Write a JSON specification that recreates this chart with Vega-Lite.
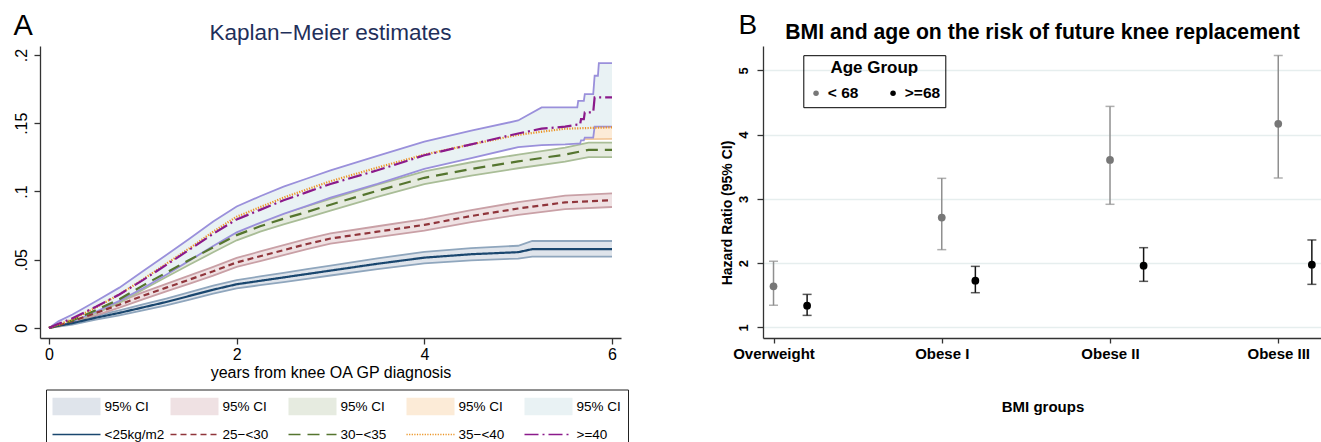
{
  "$schema": "https://vega.github.io/schema/vega-lite/v6.json",
  "background": "white",
  "padding": {"left": 12, "top": 11, "right": 0, "bottom": 0},
  "autosize": {"type": "pad"},
  "bounds": "flush",
  "spacing": 142,
  "resolve": {"scale": {"color": "independent", "fill": "independent", "stroke": "independent", "strokeDash": "independent"}},
  "config": {
    "font": "Liberation Sans",
    "view": {"stroke": null},
    "axis": {"domainColor": "#333333", "tickColor": "#333333", "labelColor": "#000000", "titleColor": "#000000", "domainWidth": 1.3, "tickWidth": 1.3, "labelFlush": false, "labelOverlap": false, "labelBound": false},
    "legend": {"labelColor": "#000000", "titleColor": "#000000"}
  },
  "datasets": {
    "km": [
      {"b":"CI1","g":"<25kg/m2","t":0,"est":0,"lo":0,"hi":0},
      {"b":"CI1","g":"<25kg/m2","t":0.1,"est":0.0015,"lo":0.0009,"hi":0.0021},
      {"b":"CI1","g":"<25kg/m2","t":0.25,"est":0.0035,"lo":0.0025,"hi":0.0045},
      {"b":"CI1","g":"<25kg/m2","t":0.5,"est":0.0075,"lo":0.006,"hi":0.009},
      {"b":"CI1","g":"<25kg/m2","t":0.75,"est":0.011,"lo":0.0092,"hi":0.0129},
      {"b":"CI1","g":"<25kg/m2","t":1,"est":0.015,"lo":0.0128,"hi":0.0172},
      {"b":"CI1","g":"<25kg/m2","t":1.25,"est":0.019,"lo":0.0165,"hi":0.0215},
      {"b":"CI1","g":"<25kg/m2","t":1.5,"est":0.0235,"lo":0.0208,"hi":0.0262},
      {"b":"CI1","g":"<25kg/m2","t":1.75,"est":0.028,"lo":0.0251,"hi":0.0309},
      {"b":"CI1","g":"<25kg/m2","t":2,"est":0.032,"lo":0.029,"hi":0.035},
      {"b":"CI1","g":"<25kg/m2","t":2.25,"est":0.0345,"lo":0.0313,"hi":0.0377},
      {"b":"CI1","g":"<25kg/m2","t":2.5,"est":0.037,"lo":0.0336,"hi":0.0404},
      {"b":"CI1","g":"<25kg/m2","t":2.75,"est":0.0395,"lo":0.036,"hi":0.043},
      {"b":"CI1","g":"<25kg/m2","t":3,"est":0.042,"lo":0.0384,"hi":0.0456},
      {"b":"CI1","g":"<25kg/m2","t":3.5,"est":0.047,"lo":0.043,"hi":0.051},
      {"b":"CI1","g":"<25kg/m2","t":4,"est":0.0515,"lo":0.0473,"hi":0.0557},
      {"b":"CI1","g":"<25kg/m2","t":4.5,"est":0.054,"lo":0.0495,"hi":0.0585},
      {"b":"CI1","g":"<25kg/m2","t":5,"est":0.0555,"lo":0.0508,"hi":0.0602},
      {"b":"CI1","g":"<25kg/m2","t":5.15,"est":0.0577,"lo":0.0522,"hi":0.0637},
      {"b":"CI1","g":"<25kg/m2","t":6,"est":0.0577,"lo":0.0522,"hi":0.0637},

      {"b":"CI2","g":"25−<30","t":0,"est":0,"lo":0,"hi":0},
      {"b":"CI2","g":"25−<30","t":0.1,"est":0.002,"lo":0.0013,"hi":0.0027},
      {"b":"CI2","g":"25−<30","t":0.25,"est":0.005,"lo":0.0038,"hi":0.0062},
      {"b":"CI2","g":"25−<30","t":0.5,"est":0.011,"lo":0.0092,"hi":0.0128},
      {"b":"CI2","g":"25−<30","t":0.75,"est":0.017,"lo":0.0148,"hi":0.0192},
      {"b":"CI2","g":"25−<30","t":1,"est":0.0235,"lo":0.0209,"hi":0.0261},
      {"b":"CI2","g":"25−<30","t":1.25,"est":0.0295,"lo":0.0267,"hi":0.0323},
      {"b":"CI2","g":"25−<30","t":1.5,"est":0.0355,"lo":0.0325,"hi":0.0385},
      {"b":"CI2","g":"25−<30","t":1.75,"est":0.0415,"lo":0.0383,"hi":0.0447},
      {"b":"CI2","g":"25−<30","t":2,"est":0.048,"lo":0.0447,"hi":0.0513},
      {"b":"CI2","g":"25−<30","t":2.25,"est":0.0525,"lo":0.049,"hi":0.056},
      {"b":"CI2","g":"25−<30","t":2.5,"est":0.057,"lo":0.0534,"hi":0.0606},
      {"b":"CI2","g":"25−<30","t":2.75,"est":0.0615,"lo":0.0578,"hi":0.0652},
      {"b":"CI2","g":"25−<30","t":3,"est":0.0655,"lo":0.0617,"hi":0.0693},
      {"b":"CI2","g":"25−<30","t":3.5,"est":0.0705,"lo":0.0665,"hi":0.0745},
      {"b":"CI2","g":"25−<30","t":4,"est":0.0755,"lo":0.0713,"hi":0.0797},
      {"b":"CI2","g":"25−<30","t":4.5,"est":0.082,"lo":0.0776,"hi":0.0864},
      {"b":"CI2","g":"25−<30","t":5,"est":0.0875,"lo":0.0828,"hi":0.0922},
      {"b":"CI2","g":"25−<30","t":5.5,"est":0.092,"lo":0.0871,"hi":0.0969},
      {"b":"CI2","g":"25−<30","t":6,"est":0.0936,"lo":0.0886,"hi":0.0986},

      {"b":"CI3","g":"30−<35","t":0,"est":0,"lo":0,"hi":0},
      {"b":"CI3","g":"30−<35","t":0.1,"est":0.0022,"lo":0.0012,"hi":0.0032},
      {"b":"CI3","g":"30−<35","t":0.25,"est":0.0055,"lo":0.004,"hi":0.007},
      {"b":"CI3","g":"30−<35","t":0.5,"est":0.013,"lo":0.0108,"hi":0.0152},
      {"b":"CI3","g":"30−<35","t":0.75,"est":0.021,"lo":0.0183,"hi":0.0237},
      {"b":"CI3","g":"30−<35","t":1,"est":0.031,"lo":0.028,"hi":0.034},
      {"b":"CI3","g":"30−<35","t":1.25,"est":0.0405,"lo":0.0373,"hi":0.0437},
      {"b":"CI3","g":"30−<35","t":1.5,"est":0.05,"lo":0.0465,"hi":0.0535},
      {"b":"CI3","g":"30−<35","t":1.75,"est":0.059,"lo":0.0554,"hi":0.0626},
      {"b":"CI3","g":"30−<35","t":2,"est":0.068,"lo":0.0642,"hi":0.0718},
      {"b":"CI3","g":"30−<35","t":2.25,"est":0.0745,"lo":0.0705,"hi":0.0785},
      {"b":"CI3","g":"30−<35","t":2.5,"est":0.08,"lo":0.0759,"hi":0.0841},
      {"b":"CI3","g":"30−<35","t":2.75,"est":0.085,"lo":0.0808,"hi":0.0892},
      {"b":"CI3","g":"30−<35","t":3,"est":0.0903,"lo":0.086,"hi":0.0946},
      {"b":"CI3","g":"30−<35","t":3.5,"est":0.1005,"lo":0.096,"hi":0.105},
      {"b":"CI3","g":"30−<35","t":4,"est":0.11,"lo":0.1053,"hi":0.1147},
      {"b":"CI3","g":"30−<35","t":4.5,"est":0.1165,"lo":0.1116,"hi":0.1214},
      {"b":"CI3","g":"30−<35","t":5,"est":0.122,"lo":0.117,"hi":0.127},
      {"b":"CI3","g":"30−<35","t":5.5,"est":0.127,"lo":0.1218,"hi":0.1322},
      {"b":"CI3","g":"30−<35","t":5.75,"est":0.1305,"lo":0.1252,"hi":0.1358},
      {"b":"CI3","g":"30−<35","t":6,"est":0.1305,"lo":0.1252,"hi":0.1358},

      {"b":"CI4","g":"35−<40","t":0,"est":0,"lo":0,"hi":0},
      {"b":"CI4","g":"35−<40","t":0.1,"est":0.0025,"lo":0.001,"hi":0.004},
      {"b":"CI4","g":"35−<40","t":0.25,"est":0.0062,"lo":0.0042,"hi":0.0082},
      {"b":"CI4","g":"35−<40","t":0.5,"est":0.015,"lo":0.0118,"hi":0.0182},
      {"b":"CI4","g":"35−<40","t":0.75,"est":0.0245,"lo":0.0205,"hi":0.0285},
      {"b":"CI4","g":"35−<40","t":1,"est":0.0355,"lo":0.0308,"hi":0.0402},
      {"b":"CI4","g":"35−<40","t":1.25,"est":0.047,"lo":0.0419,"hi":0.0521},
      {"b":"CI4","g":"35−<40","t":1.5,"est":0.0585,"lo":0.053,"hi":0.064},
      {"b":"CI4","g":"35−<40","t":1.75,"est":0.0705,"lo":0.0647,"hi":0.0763},
      {"b":"CI4","g":"35−<40","t":2,"est":0.0815,"lo":0.0755,"hi":0.0875},
      {"b":"CI4","g":"35−<40","t":2.25,"est":0.0885,"lo":0.0823,"hi":0.0947},
      {"b":"CI4","g":"35−<40","t":2.5,"est":0.0955,"lo":0.0892,"hi":0.1018},
      {"b":"CI4","g":"35−<40","t":2.75,"est":0.1015,"lo":0.0951,"hi":0.1079},
      {"b":"CI4","g":"35−<40","t":3,"est":0.1075,"lo":0.1009,"hi":0.1141},
      {"b":"CI4","g":"35−<40","t":3.5,"est":0.1175,"lo":0.1107,"hi":0.1243},
      {"b":"CI4","g":"35−<40","t":4,"est":0.127,"lo":0.12,"hi":0.134},
      {"b":"CI4","g":"35−<40","t":4.5,"est":0.1345,"lo":0.1273,"hi":0.1417},
      {"b":"CI4","g":"35−<40","t":5,"est":0.1415,"lo":0.134,"hi":0.149},
      {"b":"CI4","g":"35−<40","t":5.5,"est":0.146,"lo":0.1382,"hi":0.1538},
      {"b":"CI4","g":"35−<40","t":6,"est":0.147,"lo":0.1385,"hi":0.1555},

      {"b":"CI5","g":">=40","t":0,"est":0,"lo":0,"hi":0},
      {"b":"CI5","g":">=40","t":0.1,"est":0.003,"lo":0.0015,"hi":0.0048},
      {"b":"CI5","g":">=40","t":0.25,"est":0.007,"lo":0.0045,"hi":0.0098},
      {"b":"CI5","g":">=40","t":0.5,"est":0.0155,"lo":0.0118,"hi":0.0195},
      {"b":"CI5","g":">=40","t":0.75,"est":0.0245,"lo":0.0198,"hi":0.0295},
      {"b":"CI5","g":">=40","t":1,"est":0.035,"lo":0.029,"hi":0.0415},
      {"b":"CI5","g":">=40","t":1.25,"est":0.0462,"lo":0.039,"hi":0.0535},
      {"b":"CI5","g":">=40","t":1.5,"est":0.0575,"lo":0.0495,"hi":0.0655},
      {"b":"CI5","g":">=40","t":1.75,"est":0.069,"lo":0.06,"hi":0.078},
      {"b":"CI5","g":">=40","t":2,"est":0.0795,"lo":0.07,"hi":0.089},
      {"b":"CI5","g":">=40","t":2.25,"est":0.0865,"lo":0.077,"hi":0.0965},
      {"b":"CI5","g":">=40","t":2.5,"est":0.0935,"lo":0.0835,"hi":0.1035},
      {"b":"CI5","g":">=40","t":2.75,"est":0.0995,"lo":0.0895,"hi":0.1095},
      {"b":"CI5","g":">=40","t":3,"est":0.1055,"lo":0.0955,"hi":0.1155},
      {"b":"CI5","g":">=40","t":3.5,"est":0.1155,"lo":0.1055,"hi":0.126},
      {"b":"CI5","g":">=40","t":4,"est":0.1265,"lo":0.1165,"hi":0.1365},
      {"b":"CI5","g":">=40","t":4.5,"est":0.1345,"lo":0.1245,"hi":0.1445},
      {"b":"CI5","g":">=40","t":5,"est":0.1425,"lo":0.1325,"hi":0.152},
      {"b":"CI5","g":">=40","t":5.25,"est":0.146,"lo":0.134,"hi":0.1616},
      {"b":"CI5","g":">=40","t":5.5,"est":0.1475,"lo":0.1345,"hi":0.1616},
      {"b":"CI5","g":">=40","t":5.63,"est":0.149,"lo":0.135,"hi":0.1616},
      {"b":"CI5","g":">=40","t":5.64,"est":0.149,"lo":0.135,"hi":0.1664},
      {"b":"CI5","g":">=40","t":5.66,"est":0.149,"lo":0.135,"hi":0.1664},
      {"b":"CI5","g":">=40","t":5.67,"est":0.153,"lo":0.1375,"hi":0.1664},
      {"b":"CI5","g":">=40","t":5.7,"est":0.153,"lo":0.1375,"hi":0.1664},
      {"b":"CI5","g":">=40","t":5.71,"est":0.158,"lo":0.1395,"hi":0.1713},
      {"b":"CI5","g":">=40","t":5.8,"est":0.158,"lo":0.1395,"hi":0.1713},
      {"b":"CI5","g":">=40","t":5.815,"est":0.169,"lo":0.1475,"hi":0.1848},
      {"b":"CI5","g":">=40","t":5.85,"est":0.169,"lo":0.1475,"hi":0.1848},
      {"b":"CI5","g":">=40","t":5.86,"est":0.169,"lo":0.1475,"hi":0.194},
      {"b":"CI5","g":">=40","t":6,"est":0.169,"lo":0.1475,"hi":0.194}
    ],
    "hr": [
      {"bmi":"Overweight","k":1,"age":"< 68","hr":1.639,"lo":1.343,"hi":2.028},
      {"bmi":"Overweight","k":1,"age":">=68","hr":1.338,"lo":1.187,"hi":1.514},
      {"bmi":"Obese I","k":2,"age":"< 68","hr":2.709,"lo":2.21,"hi":3.32},
      {"bmi":"Obese I","k":2,"age":">=68","hr":1.727,"lo":1.54,"hi":1.95},
      {"bmi":"Obese II","k":3,"age":"< 68","hr":3.607,"lo":2.916,"hi":4.44},
      {"bmi":"Obese II","k":3,"age":">=68","hr":1.961,"lo":1.717,"hi":2.241},
      {"bmi":"Obese III","k":4,"age":"< 68","hr":4.168,"lo":3.327,"hi":5.232},
      {"bmi":"Obese III","k":4,"age":">=68","hr":1.977,"lo":1.67,"hi":2.361}
    ]
  },
  "hconcat": [
    {
      "width": 581,
      "height": 292,
      "title": {"text": "Kaplan−Meier estimates", "fontSize": 22.5, "fontWeight": "normal", "color": "#1f2f5a", "anchor": "middle", "frame": "group", "baseline": "alphabetic", "offset": 8, "dy": 58.5},
      "data": {"name": "km"},
      "encoding": {
        "x": {"field": "t", "type": "quantitative", "title": "years from knee OA GP diagnosis",
          "scale": {"domain": [-0.096, 6.096], "nice": false, "zero": false},
          "axis": {"values": [0, 2, 4, 6], "format": "d", "labelFontSize": 16, "labelPadding": 2, "tickSize": 6, "grid": false, "titleFontSize": 16, "titleFontWeight": "normal", "titlePadding": 2}}
      },
      "layer": [
        {
          "transform": [{"filter": "datum.b != 'CI5'"}],
          "mark": {"type": "area", "opacity": 1},
          "encoding": {
            "y": {"field": "lo", "type": "quantitative", "title": "A",
              "scale": {"domain": [-0.0074, 0.2066], "nice": false, "zero": false},
              "axis": {"values": [0, 0.05, 0.1, 0.15, 0.2], "labelExpr": "datum.value == 0 ? '0' : replace(format(datum.value, '.2~f'), '0.', '.')", "labelAngle": -90, "labelAlign": "center", "labelBaseline": "alphabetic", "labelFontSize": 16, "labelPadding": 8, "tickSize": 6, "grid": false, "titleAngle": 0, "titleX": -27, "titleY": -11.5, "titleAlign": "left", "titleBaseline": "alphabetic", "titleFontSize": 29, "titleFontWeight": "normal"}},
            "y2": {"field": "hi"},
            "fill": {"field": "b", "type": "nominal",
              "scale": {"domain": ["CI1","CI2","CI3","CI4","CI5","<25kg/m2","25−<30","30−<35","35−<40",">=40"], "range": ["#dfe4eb","#efe1e3","#e6ebe0","#fcebd7","#e9f2f4","transparent","transparent","transparent","transparent","transparent"]},
              "legend": {"orient": "none", "legendX": 6, "legendY": 343.5, "direction": "horizontal", "columns": 5, "title": null, "strokeColor": "#222222", "padding": 7, "rowPadding": 5.25, "columnPadding": 2, "gridAlign": "all", "symbolSize": 100, "symbolStrokeWidth": 1.5, "labelOffset": 38, "labelFontSize": 13.5, "labelExpr": "indexof(['CI1','CI2','CI3','CI4','CI5'], datum.value) >= 0 ? '95% CI' : datum.label",
                "encode": {"symbols": {"update": {"shape": {"signal": "indexof(['CI1','CI2','CI3','CI4','CI5'], datum.value) >= 0 ? 'M-1.45,-1.75L8.15,-1.75L8.15,1.75L-1.45,1.75Z' : 'M-1.45,0L8.15,0M0,3'"}}}}}}
          }
        },
        {
          "transform": [{"filter": "datum.b != 'CI5'"}, {"fold": ["lo", "hi"], "as": ["edge", "v"]}],
          "mark": {"type": "line", "strokeWidth": 1.8},
          "encoding": {
            "y": {"field": "v", "type": "quantitative", "title": "A", "scale": {"domain": [-0.0074, 0.2066], "nice": false, "zero": false}},
            "color": {"field": "b", "type": "nominal", "scale": {"domain": ["CI1","CI2","CI3","CI4","CI5"], "range": ["#8fa6bd","#c9a0a6","#a9bd97","#f3c99d","#9a90db"]}, "legend": null},
            "detail": {"field": "edge"}
          }
        },
        {
          "transform": [{"filter": "datum.b == 'CI5'"}],
          "mark": {"type": "area", "opacity": 1},
          "encoding": {
            "y": {"field": "lo", "type": "quantitative", "title": "A", "scale": {"domain": [-0.0074, 0.2066], "nice": false, "zero": false}},
            "y2": {"field": "hi"},
            "fill": {"field": "b", "type": "nominal",
              "scale": {"domain": ["CI1","CI2","CI3","CI4","CI5","<25kg/m2","25−<30","30−<35","35−<40",">=40"], "range": ["#dfe4eb","#efe1e3","#e6ebe0","#fcebd7","#e9f2f4","transparent","transparent","transparent","transparent","transparent"]},
              "legend": {"orient": "none", "legendX": 6, "legendY": 343.5, "direction": "horizontal", "columns": 5, "title": null, "strokeColor": "#222222", "padding": 7, "rowPadding": 5.25, "columnPadding": 2, "gridAlign": "all", "symbolSize": 100, "symbolStrokeWidth": 1.5, "labelOffset": 38, "labelFontSize": 13.5, "labelExpr": "indexof(['CI1','CI2','CI3','CI4','CI5'], datum.value) >= 0 ? '95% CI' : datum.label",
                "encode": {"symbols": {"update": {"shape": {"signal": "indexof(['CI1','CI2','CI3','CI4','CI5'], datum.value) >= 0 ? 'M-1.45,-1.75L8.15,-1.75L8.15,1.75L-1.45,1.75Z' : 'M-1.45,0L8.15,0M0,3'"}}}}}}
          }
        },
        {
          "transform": [{"filter": "datum.b == 'CI5'"}, {"fold": ["lo", "hi"], "as": ["edge", "v"]}],
          "mark": {"type": "line", "strokeWidth": 1.8},
          "encoding": {
            "y": {"field": "v", "type": "quantitative", "title": "A", "scale": {"domain": [-0.0074, 0.2066], "nice": false, "zero": false}},
            "color": {"field": "b", "type": "nominal", "scale": {"domain": ["CI1","CI2","CI3","CI4","CI5"], "range": ["#8fa6bd","#c9a0a6","#a9bd97","#f3c99d","#9a90db"]}, "legend": null},
            "detail": {"field": "edge"}
          }
        },
        {
          "mark": {"type": "line", "strokeWidth": 2.2},
          "encoding": {
            "y": {"field": "est", "type": "quantitative", "title": "A", "scale": {"domain": [-0.0074, 0.2066], "nice": false, "zero": false}},
            "stroke": {"field": "g", "type": "nominal",
              "scale": {"domain": ["CI1","CI2","CI3","CI4","CI5","<25kg/m2","25−<30","30−<35","35−<40",">=40"], "range": ["transparent","transparent","transparent","transparent","transparent","#1a476f","#90353b","#55752f","#ec9424","#8b1a8b"]},
              "legend": {"orient": "none", "legendX": 6, "legendY": 343.5, "direction": "horizontal", "columns": 5, "title": null, "strokeColor": "#222222", "padding": 7, "rowPadding": 5.25, "columnPadding": 2, "gridAlign": "all", "symbolSize": 100, "symbolStrokeWidth": 1.5, "labelOffset": 38, "labelFontSize": 13.5, "labelExpr": "indexof(['CI1','CI2','CI3','CI4','CI5'], datum.value) >= 0 ? '95% CI' : datum.label",
                "encode": {"symbols": {"update": {"shape": {"signal": "indexof(['CI1','CI2','CI3','CI4','CI5'], datum.value) >= 0 ? 'M-1.45,-1.75L8.15,-1.75L8.15,1.75L-1.45,1.75Z' : 'M-1.45,0L8.15,0M0,3'"}}}}}},
            "strokeDash": {"field": "g", "type": "nominal",
              "scale": {"domain": ["CI1","CI2","CI3","CI4","CI5","<25kg/m2","25−<30","30−<35","35−<40",">=40"], "range": [[1,0],[1,0],[1,0],[1,0],[1,0],[1,0],[6,4],[12,7],[1.2,1.4],[14,4,2,4]]},
              "legend": {"orient": "none", "legendX": 6, "legendY": 343.5, "direction": "horizontal", "columns": 5, "title": null, "strokeColor": "#222222", "padding": 7, "rowPadding": 5.25, "columnPadding": 2, "gridAlign": "all", "symbolSize": 100, "symbolStrokeWidth": 1.5, "labelOffset": 38, "labelFontSize": 13.5, "labelExpr": "indexof(['CI1','CI2','CI3','CI4','CI5'], datum.value) >= 0 ? '95% CI' : datum.label",
                "encode": {"symbols": {"update": {"shape": {"signal": "indexof(['CI1','CI2','CI3','CI4','CI5'], datum.value) >= 0 ? 'M-1.45,-1.75L8.15,-1.75L8.15,1.75L-1.45,1.75Z' : 'M-1.45,0L8.15,0M0,3'"}}}}}}
          }
        }
      ]
    },
    {
      "width": 559,
      "height": 292,
      "title": {"text": "BMI and age on the risk of future knee replacement", "fontSize": 21.2, "fontWeight": "bold", "color": "#000000", "anchor": "middle", "frame": "group", "baseline": "alphabetic", "offset": 9.5, "dy": 58.5},
      "data": {"name": "hr"},
      "resolve": {"axis": {"x": "independent"}},
      "encoding": {
        "x": {"field": "k", "type": "quantitative", "title": "BMI groups",
          "scale": {"domain": [0.9375, 4.26], "nice": false, "zero": false},
          "axis": {"orient": "bottom", "values": [1, 2, 3, 4], "labelExpr": "datum.value == 1 ? 'Overweight' : datum.value == 2 ? 'Obese I' : datum.value == 3 ? 'Obese II' : 'Obese III'", "labelFontSize": 15, "labelFontWeight": "bold", "labelPadding": 3, "tickSize": 5, "grid": false, "titleFontSize": 15, "titleFontWeight": "bold", "titlePadding": 38}}
      },
      "layer": [
        {
          "mark": {"type": "rule", "strokeWidth": 1.5, "xOffset": {"expr": "datum.age == '>=68' ? 33.6 : 0"}},
          "encoding": {
            "x": {"field": "k", "type": "quantitative", "title": "B",
              "scale": {"domain": [0.9375, 4.26], "nice": false, "zero": false},
              "axis": {"orient": "top", "domain": false, "ticks": false, "labels": false, "grid": false, "titleAngle": 0, "titleX": -25, "titleY": -13, "titleAlign": "left", "titleBaseline": "alphabetic", "titleFontSize": 28, "titleFontWeight": "normal"}},
            "y": {"field": "lo", "type": "quantitative", "title": "Hazard Ratio (95% CI)",
              "scale": {"domain": [0.835, 5.38], "nice": false, "zero": false},
              "axis": {"values": [1, 2, 3, 4, 5], "format": "d", "grid": true, "gridColor": "#e6eeee", "gridWidth": 1.5, "labelAngle": -90, "labelAlign": "center", "labelBaseline": "alphabetic", "labelFontSize": 13, "labelFontWeight": "bold", "labelPadding": 10, "tickSize": 6, "titleFontSize": 14, "titleFontWeight": "bold", "titlePadding": 3, "titleY": 166.5}},
            "y2": {"field": "hi"},
            "stroke": {"field": "age", "type": "nominal", "scale": {"domain": [">=68", "< 68"], "range": ["#141414", "#8f8f8f"]}, "legend": null}
          }
        },
        {
          "transform": [{"fold": ["lo", "hi"], "as": ["bnd", "v"]}],
          "mark": {"type": "tick", "orient": "horizontal", "size": 9, "thickness": 1.5, "xOffset": {"expr": "datum.age == '>=68' ? 33.6 : 0"}},
          "encoding": {
            "x": {"field": "k", "type": "quantitative", "scale": {"domain": [0.9375, 4.26], "nice": false, "zero": false}, "axis": null},
            "y": {"field": "v", "type": "quantitative", "title": "Hazard Ratio (95% CI)", "scale": {"domain": [0.835, 5.38], "nice": false, "zero": false}},
            "fill": {"field": "age", "type": "nominal", "scale": {"domain": [">=68", " < 68", "< 68"], "range": ["#141414", "#8f8f8f", "#8f8f8f"]}, "legend": null}
          }
        },
        {
          "mark": {"type": "point", "filled": true, "size": 60, "opacity": 1, "xOffset": {"expr": "datum.age == '>=68' ? 33.6 : 0"}},
          "encoding": {
            "y": {"field": "hr", "type": "quantitative", "title": "Hazard Ratio (95% CI)", "scale": {"domain": [0.835, 5.38], "nice": false, "zero": false}},
            "color": {"field": "age", "type": "nominal", "scale": {"domain": ["< 68", ">=68"], "range": ["#777777", "#000000"]},
              "legend": {"orient": "none", "legendX": 40.3, "legendY": 9.2, "direction": "horizontal", "title": "Age Group", "titleFontSize": 17, "titleFontWeight": "bold", "titleAnchor": "middle", "titlePadding": 8, "labelFontSize": 15.5, "labelFontWeight": "bold", "symbolSize": 30, "symbolType": "circle", "symbolStrokeWidth": 0, "strokeColor": "#000000", "padding": 5, "columnPadding": 26, "labelOffset": 4}}
          }
        }
      ]
    }
  ]
}
